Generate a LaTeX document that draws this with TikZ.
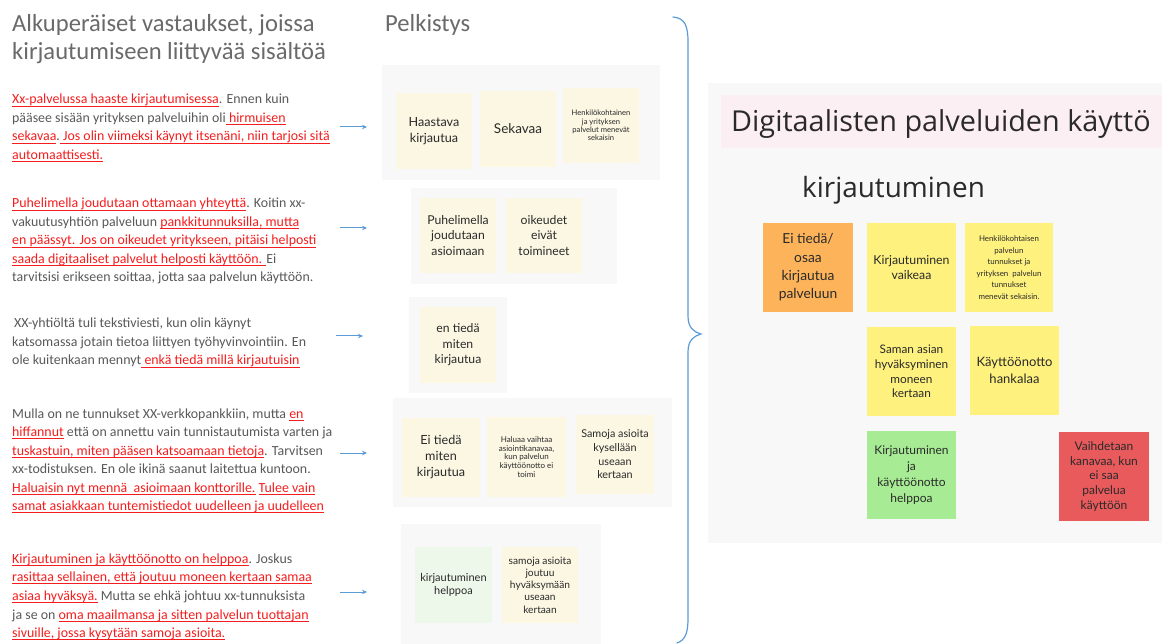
\documentclass[tikz,border=0pt]{standalone}
\usepackage{fontspec}
\setmainfont{Carlito}
\newfontfamily\miro{Lato}
\newfontfamily\mirohead{Open Sans}
\usetikzlibrary{arrows.meta}

\definecolor{graytxt}{HTML}{595959}
\definecolor{headgray}{HTML}{6A6A6A}
\definecolor{redtxt}{HTML}{F51D1D}
\definecolor{panelbg}{HTML}{F8F8F8}
\definecolor{cream}{HTML}{FBF7E3}
\definecolor{mint}{HTML}{EEF8EA}
\definecolor{pinkbar}{HTML}{FCEFF4}
\definecolor{darktxt}{HTML}{2A2A2A}
\definecolor{sorange}{HTML}{FCB35A}
\definecolor{syellow}{HTML}{FEF17E}
\definecolor{sgreen}{HTML}{A7EC94}
\definecolor{sred}{HTML}{E85A5C}
\definecolor{bracecol}{HTML}{5A9BD8}

% red, underlined passage inside a quote
\newsavebox\rlbox
\newcommand\rl[1]{{\color{redtxt}\sbox\rlbox{#1}%
  \rlap{\raisebox{-2.6pt}{\rule{\wd\rlbox}{1pt}}}\usebox\rlbox}}
\newcommand\fs[2]{\fontsize{#1}{#2}\selectfont}

\begin{document}
\begin{tikzpicture}[x=1pt,y=-1pt,
  heading/.style={anchor=base west, inner sep=0, text=headgray, font=\fs{24.6}{28}},
  quote/.style={anchor=base west, inner sep=0, text=graytxt, font=\fs{13.9}{16}},
  panel/.style={anchor=north west, fill=panelbg, inner sep=0, outer sep=0},
  sticky/.style={fill=cream, align=center, inner sep=1pt, text=darktxt},
  bigsticky/.style={align=center, inner sep=1pt, text=darktxt,
    minimum width=89, minimum height=89},
  pointer/.style={draw=bracecol, line width=1pt, -{Stealth[length=5pt,width=4.5pt]}}
]
\useasboundingbox (0,0) rectangle (1165,644);
\fill[white] (0,0) rectangle (1165,644);

% ---------- headings ----------
\node[heading] (h1) at (12,32) {Alkuperäiset vastaukset, joissa};
\node[heading] (h2) at (12,60) {kirjautumiseen liittyvää sisältöä};
\node[heading] (h3) at (385,32) {Pelkistys};

% ---------- quote 1 ----------
\node[quote] (q1a) at (12,104) {\rl{Xx-palvelussa haaste kirjautumisessa}. Ennen kuin};
\node[quote] (q1b) at (12,122.5) {pääsee sisään yrityksen palveluihin oli\rl{ hirmuisen}};
\node[quote] (q1c) at (12,141) {\rl{sekavaa}.\rl{ Jos olin viimeksi käynyt itsenäni, niin tarjosi sitä}};
\node[quote] (q1d) at (12,159.5) {\rl{automaattisesti.}};

% ---------- quote 2 ----------
\node[quote] (q2a) at (12,208) {\rl{Puhelimella joudutaan ottamaan yhteyttä}. Koitin xx-};
\node[quote] (q2b) at (12,226.5) {vakuutusyhtiön palveluun \rl{pankkitunnuksilla, mutta}};
\node[quote] (q2c) at (12,245) {\rl{en päässyt. Jos on oikeudet yritykseen, pitäisi helposti}};
\node[quote] (q2d) at (12,263.5) {\rl{saada digitaaliset palvelut helposti käyttöön. }Ei};
\node[quote] (q2e) at (12,282) {tarvitsisi erikseen soittaa, jotta saa palvelun käyttöön.};

% ---------- quote 3 ----------
\node[quote] (q3a) at (14,328) {XX-yhtiöltä tuli tekstiviesti, kun olin käynyt};
\node[quote] (q3b) at (12,346.5) {katsomassa jotain tietoa liittyen työhyvinvointiin. En};
\node[quote] (q3c) at (12,365) {ole kuitenkaan mennyt\rl{ enkä tiedä millä kirjautuisin}};

% ---------- quote 4 ----------
\node[quote] (q4a) at (12,418) {Mulla on ne tunnukset XX-verkkopankkiin, mutta \rl{en}};
\node[quote] (q4b) at (12,436.5) {\rl{hiffannut} että on annettu vain tunnistautumista varten ja};
\node[quote] (q4c) at (12,455) {\rl{tuskastuin, miten pääsen katsoamaan tietoja}. Tarvitsen};
\node[quote] (q4d) at (12,473.5) {xx-todistuksen. En ole ikinä saanut laitettua kuntoon.};
\node[quote] (q4e) at (12,492) {\rl{Haluaisin nyt mennä\ \ asioimaan konttorille.} \rl{Tulee vain}};
\node[quote] (q4f) at (12,510.5) {\rl{samat asiakkaan tuntemistiedot uudelleen ja uudelleen}};

% ---------- quote 5 ----------
\node[quote] (q5a) at (12,563) {\rl{Kirjautuminen ja käyttöönotto on helppoa}. Joskus};
\node[quote] (q5b) at (12,581.7) {\rl{rasittaa sellainen, että joutuu moneen kertaan samaa}};
\node[quote] (q5c) at (12,600.4) {\rl{asiaa hyväksyä.} Mutta se ehkä johtuu xx-tunnuksista};
\node[quote] (q5d) at (12,619.1) {ja se on \rl{oma maailmansa ja sitten palvelun tuottajan}};
\node[quote] (q5e) at (12,637.8) {\rl{sivuille, jossa kysytään samoja asioita.}};

% ---------- pointers from quotes to their summaries ----------
\coordinate (a1s) at (340,127); \coordinate (a1e) at (367,127);
\coordinate (a2s) at (340,228); \coordinate (a2e) at (367,228);
\coordinate (a3s) at (336,336); \coordinate (a3e) at (363,336);
\coordinate (a4s) at (340,453); \coordinate (a4e) at (367,453);
\coordinate (a5s) at (340,592); \coordinate (a5e) at (367,592);
\draw[pointer] (a1s) -- (a1e);
\draw[pointer] (a2s) -- (a2e);
\draw[pointer] (a3s) -- (a3e);
\draw[pointer] (a4s) -- (a4e);
\draw[pointer] (a5s) -- (a5e);

% ---------- summary boards ----------
\node[panel, minimum width=278, minimum height=115] (p1) at (382,65) {};
\node[panel, minimum width=206, minimum height=96]  (p2) at (411,188) {};
\node[panel, minimum width=98,  minimum height=96]  (p3) at (409,297) {};
\node[panel, minimum width=279, minimum height=109] (p4) at (393,398) {};
\node[panel, minimum width=200, minimum height=120] (p5) at (401,524) {};

\node[sticky, minimum width=76, minimum height=76, font=\miro\fs{12.6}{16.5}] (m11) at (434,131) {Haastava\\kirjautua};
\node[sticky, minimum width=76, minimum height=76, font=\miro\fs{13.5}{16}] (m12) at (518,129) {Sekavaa};
\node[sticky, minimum width=76, minimum height=75, font=\miro\fs{7.6}{8.2}] (m13) at (601,125.5) {Henkilökohtainen\\ja yrityksen\\palvelut menevät\\sekaisin};

\node[sticky, minimum width=76, minimum height=75, font=\miro\fs{12.2}{15.5}] (m21) at (458,235.5) {Puhelimella\\joudutaan\\asioimaan};
\node[sticky, minimum width=76, minimum height=75, font=\miro\fs{12.2}{15.5}] (m22) at (544,235.5) {oikeudet\\eivät\\toimineet};

\node[sticky, minimum width=76, minimum height=76, font=\miro\fs{12.2}{15.5}] (m31) at (458,345) {en tiedä\\miten\\kirjautua};

\node[sticky, minimum width=78, minimum height=79, font=\miro\fs{12.6}{16}] (m41) at (441,457.5) {Ei tiedä\\miten\\kirjautua};
\node[sticky, minimum width=79, minimum height=80, font=\miro\fs{8}{8.7}] (m42) at (526.5,457) {Haluaa vaihtaa\\asiointikanavaa,\\kun palvelun\\käyttöönotto ei\\toimi};
\node[sticky, minimum width=78, minimum height=79, font=\miro\fs{10.8}{13.6}] (m43) at (615,454.5) {Samoja asioita\\kysellään\\useaan\\kertaan};

\node[sticky, fill=mint, minimum width=77, minimum height=76, font=\miro\fs{11}{13.7}] (m51) at (453.5,585) {kirjautuminen\\helppoa};
\node[sticky, minimum width=76, minimum height=76, font=\miro\fs{10.2}{12.2}] (m52) at (540,585) {samoja asioita\\joutuu\\hyväksymään\\useaan\\kertaan};

% ---------- curly brace gathering the summaries ----------
\draw[bracecol, line width=1.2pt, line cap=round]
  (673,17) .. controls (685,18) and (688,26) .. (688,42)
  -- (688,316) .. controls (688,328) and (694,332) .. (701,334)
  .. controls (694,336) and (688,340) .. (688,352)
  -- (688,618) .. controls (688,634) and (685,640) .. (677,643);

% ---------- theme board ----------
\node[panel, minimum width=454, minimum height=460] (rb) at (708,83) {};
\node[panel, fill=pinkbar, minimum width=441, minimum height=53] (tb) at (721,95) {};
\node[anchor=base west, inner sep=0, text=darktxt, font=\mirohead\fs{28.8}{32}] (tt) at (731,131.5) {Digitaalisten palveluiden käyttö};
\node[anchor=base west, inner sep=0, text=darktxt, font=\mirohead\fs{27.9}{32}] (st) at (802,197.5) {kirjautuminen};

\node[bigsticky, fill=sorange, minimum width=90, font=\miro\fs{13.8}{18.3}] (r1) at (808,267.5) {Ei tiedä/\\osaa\\kirjautua\\palveluun};
\node[bigsticky, fill=syellow, font=\miro\fs{12.3}{15}] (r2) at (911.5,267.5) {Kirjautuminen\\vaikeaa};
\node[bigsticky, fill=syellow, minimum width=88, font=\miro\fs{7.9}{11.5}] (r3) at (1009,267.5) {Henkilökohtaisen\\palvelun\\tunnukset ja\\yrityksen\ \ palvelun\\tunnukset\\menevät sekaisin.};
\node[bigsticky, fill=syellow, font=\miro\fs{11.8}{14.6}] (r4) at (911.5,371.5) {Saman asian\\hyväksyminen\\moneen\\kertaan};
\node[bigsticky, fill=syellow, font=\miro\fs{13}{17.3}] (r5) at (1014.5,370.5) {Käyttöönotto\\hankalaa};
\node[bigsticky, fill=sgreen, minimum height=88, font=\miro\fs{12}{16}] (r6) at (911.5,475) {Kirjautuminen\\ja\\käyttöönotto\\helppoa};
\node[bigsticky, fill=sred, minimum width=90, font=\miro\fs{12}{14.7}] (r7) at (1104,476.5) {Vaihdetaan\\kanavaa, kun\\ei saa\\palvelua\\käyttöön};

\end{tikzpicture}
\end{document}
